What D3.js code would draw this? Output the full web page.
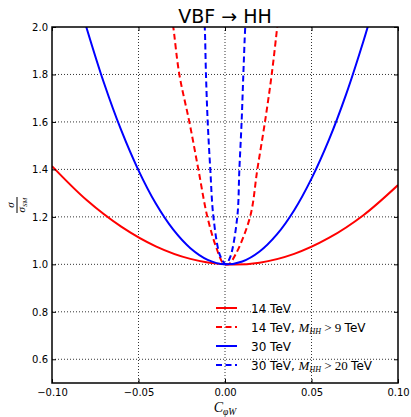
<html>
<head>
<meta charset="utf-8">
<style>
  body { margin: 0; background: #fff; }
  .tick text { font-family: "DejaVu Sans", sans-serif; font-size: 10px; fill: #000; }
  .tick line { stroke: #000; stroke-width: 1; }
  .grid line { stroke: #000; stroke-width: 0.8; stroke-dasharray: 1,2; }
  .curve { fill: none; stroke-width: 2; }
  .math { font-family: "Liberation Serif", "DejaVu Serif", serif; font-style: italic; }
</style>
<script src="https://d3js.org/d3.v7.min.js"></script>
</head>
<body>
<script>
// tick labels
var xTicks = [-0.10, -0.05, 0.00, 0.05, 0.10];
var yTicks = [0.6, 0.8, 1.0, 1.2, 1.4, 1.6, 1.8, 2.0];

// 14 TeV (red, solid)
var c14 = [-0.10, -0.08, -0.06, -0.04, -0.02, 0.00, 0.02, 0.04, 0.06, 0.08, 0.10];
var v14 = [1.414, 1.271, 1.159, 1.076, 1.023, 1.000, 1.007, 1.044, 1.111, 1.207, 1.334];

// 14 TeV, M_HH > 9 TeV (red, dashed)
var c14cut = [-0.0310, -0.0299, -0.0264, -0.0206, -0.0154, -0.0102, -0.0050, -0.0010, 0.0020, 0.0060, 0.0145, 0.0187, 0.0231, 0.0270, 0.0302, 0.0310];
var v14cut = [2.05, 2.00, 1.80, 1.60, 1.40, 1.20, 1.07, 1.005, 1.000, 1.04, 1.20, 1.40, 1.60, 1.80, 2.00, 2.05];

// 30 TeV (blue, solid)
var c30 = [-0.085, -0.08, -0.07, -0.06, -0.05, -0.04, -0.03, -0.02, -0.01, 0.00, 0.01, 0.02, 0.03, 0.04, 0.05, 0.06, 0.07, 0.08, 0.085];
var v30 = [2.122, 1.996, 1.765, 1.565, 1.396, 1.256, 1.147, 1.068, 1.019, 1.000, 1.012, 1.054, 1.126, 1.228, 1.361, 1.523, 1.716, 1.940, 2.063];

// 30 TeV, M_HH > 20 TeV (blue, dashed)
var c30cut = [-0.0122, -0.0117, -0.0110, -0.0100, -0.0085, -0.0067, -0.0030, 0.0000, 0.0005, 0.0030, 0.0071, 0.0083, 0.0096, 0.0106, 0.0117, 0.0122];
var v30cut = [2.05, 2.00, 1.80, 1.60, 1.40, 1.20, 1.04, 1.002, 1.000, 1.03, 1.20, 1.40, 1.60, 1.80, 2.00, 2.05];

var series = [
  { c: c14, v: v14, color: "#ff0000", dash: null, label: "14 TeV", cut: null },
  { c: c14cut, v: v14cut, color: "#ff0000", dash: "6,3.5", label: "14 TeV, ", cut: "9" },
  { c: c30, v: v30, color: "#0000ff", dash: null, label: "30 TeV", cut: null },
  { c: c30cut, v: v30cut, color: "#0000ff", dash: "6,3.5", label: "30 TeV, ", cut: "20" }
];

var width = 411, height = 417;
var pl = 52, pr = 398, pt = 27, pb = 383;

var x = d3.scaleLinear().domain([-0.1, 0.1]).range([pl, pr]);
var y = d3.scaleLinear().domain([0.5, 2.0]).range([pb, pt]);

var svg = d3.select("body").append("svg")
  .attr("width", width)
  .attr("height", height);

svg.append("clipPath").attr("id", "plot")
  .append("rect")
    .attr("x", pl).attr("y", pt)
    .attr("width", pr - pl).attr("height", pb - pt);

// dotted grid
var grid = svg.append("g").attr("class", "grid");
grid.selectAll("line.gx")
  .data(xTicks.slice(1, -1))
  .enter().append("line")
    .attr("x1", function(d) { return x(d); })
    .attr("x2", function(d) { return x(d); })
    .attr("y1", pt).attr("y2", pb);
grid.selectAll("line.gy")
  .data(yTicks.filter(function(d) { return d < 2.0; }))
  .enter().append("line")
    .attr("y1", function(d) { return y(d); })
    .attr("y2", function(d) { return y(d); })
    .attr("x1", pl).attr("x2", pr);

// curves
var line = d3.line()
  .x(function(d) { return x(d[0]); })
  .y(function(d) { return y(d[1]); })
  .curve(d3.curveCatmullRom.alpha(0.5));

svg.append("g").attr("clip-path", "url(#plot)")
  .selectAll("path")
  .data(series)
  .enter().append("path")
    .attr("class", "curve")
    .attr("stroke", function(d) { return d.color; })
    .attr("stroke-dasharray", function(d) { return d.dash; })
    .attr("d", function(d) { return line(d3.zip(d.c, d.v)); });

// axes, ticks pointing inwards on all four sides
svg.append("g")
  .attr("transform", "translate(0," + pb + ")")
  .call(d3.axisBottom(x).tickValues(xTicks).tickSize(-4).tickPadding(6).tickFormat(d3.format(".2f")))
  .call(function(g) { g.select(".domain").remove(); });

svg.append("g")
  .attr("transform", "translate(0," + pt + ")")
  .call(d3.axisTop(x).tickValues(xTicks).tickSize(-4).tickFormat(""))
  .call(function(g) { g.select(".domain").remove(); });

svg.append("g")
  .attr("transform", "translate(" + pl + ",0)")
  .call(d3.axisLeft(y).tickValues(yTicks).tickSize(-4).tickPadding(4).tickFormat(d3.format(".1f")))
  .call(function(g) { g.select(".domain").remove(); });

svg.append("g")
  .attr("transform", "translate(" + pr + ",0)")
  .call(d3.axisRight(y).tickValues(yTicks).tickSize(-4).tickFormat(""))
  .call(function(g) { g.select(".domain").remove(); });

svg.append("rect")
  .attr("x", pl).attr("y", pt)
  .attr("width", pr - pl).attr("height", pb - pt)
  .attr("fill", "none")
  .attr("stroke", "#000")
  .attr("stroke-width", 1.5);

// title
svg.append("text")
  .attr("x", (pl + pr) / 2)
  .attr("y", 22.5)
  .attr("text-anchor", "middle")
  .style("font-family", "DejaVu Sans, sans-serif")
  .style("font-size", "19px")
  .text("VBF \u2192 HH");

// x label
var xl = svg.append("text")
  .attr("x", (pl + pr) / 2)
  .attr("y", 411.5)
  .attr("text-anchor", "middle")
  .attr("class", "math")
  .style("font-size", "14px");
xl.append("tspan").text("C");
xl.append("tspan").attr("dy", 3).style("font-size", "9.5px").text("\u03C6W");

// y label: sigma / sigma_SM
var yl = svg.append("g")
  .attr("transform", "translate(17," + ((pt + pb) / 2) + ") rotate(-90)");
yl.append("text")
  .attr("class", "math")
  .attr("x", 0).attr("y", -3)
  .attr("text-anchor", "middle")
  .style("font-size", "11px")
  .text("\u03C3");
yl.append("line")
  .attr("x1", -8).attr("x2", 8)
  .attr("y1", 0).attr("y2", 0)
  .attr("stroke", "#000").attr("stroke-width", 1);
var den = yl.append("text")
  .attr("class", "math")
  .attr("x", 0).attr("y", 8)
  .attr("text-anchor", "middle")
  .style("font-size", "11px");
den.append("tspan").text("\u03C3");
den.append("tspan").attr("dy", 2).style("font-size", "7px").text("SM");

// legend
var leg = svg.append("g").selectAll("g")
  .data(series)
  .enter().append("g")
    .attr("transform", function(d, i) { return "translate(216," + (308 + i * 19) + ")"; });

leg.append("line")
  .attr("x1", 0).attr("x2", 21)
  .attr("y1", 0).attr("y2", 0)
  .attr("stroke", function(d) { return d.color; })
  .attr("stroke-width", 2)
  .attr("stroke-dasharray", function(d) { return d.dash; });

var lt = leg.append("text")
  .attr("x", 35).attr("y", 4.5)
  .style("font-family", "DejaVu Sans, sans-serif")
  .style("font-size", "12px");
lt.append("tspan").text(function(d) { return d.label; });
lt.filter(function(d) { return d.cut; }).each(function(d) {
  var t = d3.select(this);
  t.append("tspan").attr("class", "math").style("font-size", "13px").text("M");
  t.append("tspan").attr("class", "math").attr("dy", 2).style("font-size", "8px").text("HH");
  t.append("tspan").attr("dy", -2).style("font-family", "Liberation Serif, serif").style("font-size", "13px").text(" > " + d.cut + " ");
  t.append("tspan").text("TeV");
});
</script>
</body>
</html>
